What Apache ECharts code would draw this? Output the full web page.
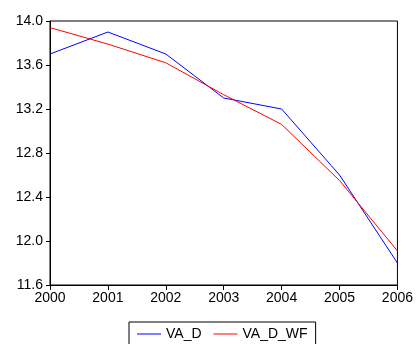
<!DOCTYPE html>
<html>
<head>
<meta charset="utf-8">
<script src="https://cdn.jsdelivr.net/npm/echarts@6/dist/echarts.min.js"></script>
<style>
  html, body { margin: 0; padding: 0; background: #fff; }
  #chart { width: 416px; height: 344px; }
</style>
</head>
<body>
<div id="chart"></div>
<script>
// 年份与两条序列
const years = ['2000', '2001', '2002', '2003', '2004', '2005', '2006'];
const vaD = [13.70, 13.90, 13.70, 13.30, 13.20, 12.60, 11.80];
const vaDWf = [13.94, 13.79, 13.62, 13.33, 13.06, 12.55, 11.91];

const font = 'Liberation Sans, Arial, sans-serif';

let chart = echarts.init(document.getElementById('chart'));

chart.setOption({
  animation: false,
  grid: {
    left: 50, right: 15, top: 21, bottom: 59,
    show: true, borderColor: '#000', borderWidth: 1
  },
  legend: {
    left: 129, top: 322,
    icon: 'rect',
    itemWidth: 24, itemHeight: 1, itemGap: 12,
    padding: [5, 8, 5, 8],
    borderColor: '#000', borderWidth: 1, borderRadius: 0,
    textStyle: { fontFamily: font, fontSize: 14, color: '#000' },
    data: ['VA_D', 'VA_D_WF']
  },
  xAxis: {
    type: 'category',
    data: years,
    boundaryGap: false,
    axisLine: { lineStyle: { color: '#000', width: 1 } },
    axisTick: { length: 5, lineStyle: { color: '#000' } },
    axisLabel: { fontFamily: font, fontSize: 14, color: '#000', margin: 6 },
    splitLine: { show: false }
  },
  yAxis: {
    type: 'value',
    min: 11.6, max: 14.0, interval: 0.4,
    axisLine: { show: true, lineStyle: { color: '#000', width: 1 } },
    axisTick: { show: true, length: 4, lineStyle: { color: '#000' } },
    axisLabel: {
      fontFamily: font, fontSize: 14, color: '#000', margin: 7,
      formatter: v => v.toFixed(1)
    },
    splitLine: { show: false }
  },
  series: [
    {
      name: 'VA_D', type: 'line', data: vaD,
      symbol: 'none', lineStyle: { color: '#0000ff', width: 1 },
      itemStyle: { color: '#0000ff' }
    },
    {
      name: 'VA_D_WF', type: 'line', data: vaDWf,
      symbol: 'none', lineStyle: { color: '#ff0000', width: 1 },
      itemStyle: { color: '#ff0000' }
    }
  ]
});
</script>
</body>
</html>
